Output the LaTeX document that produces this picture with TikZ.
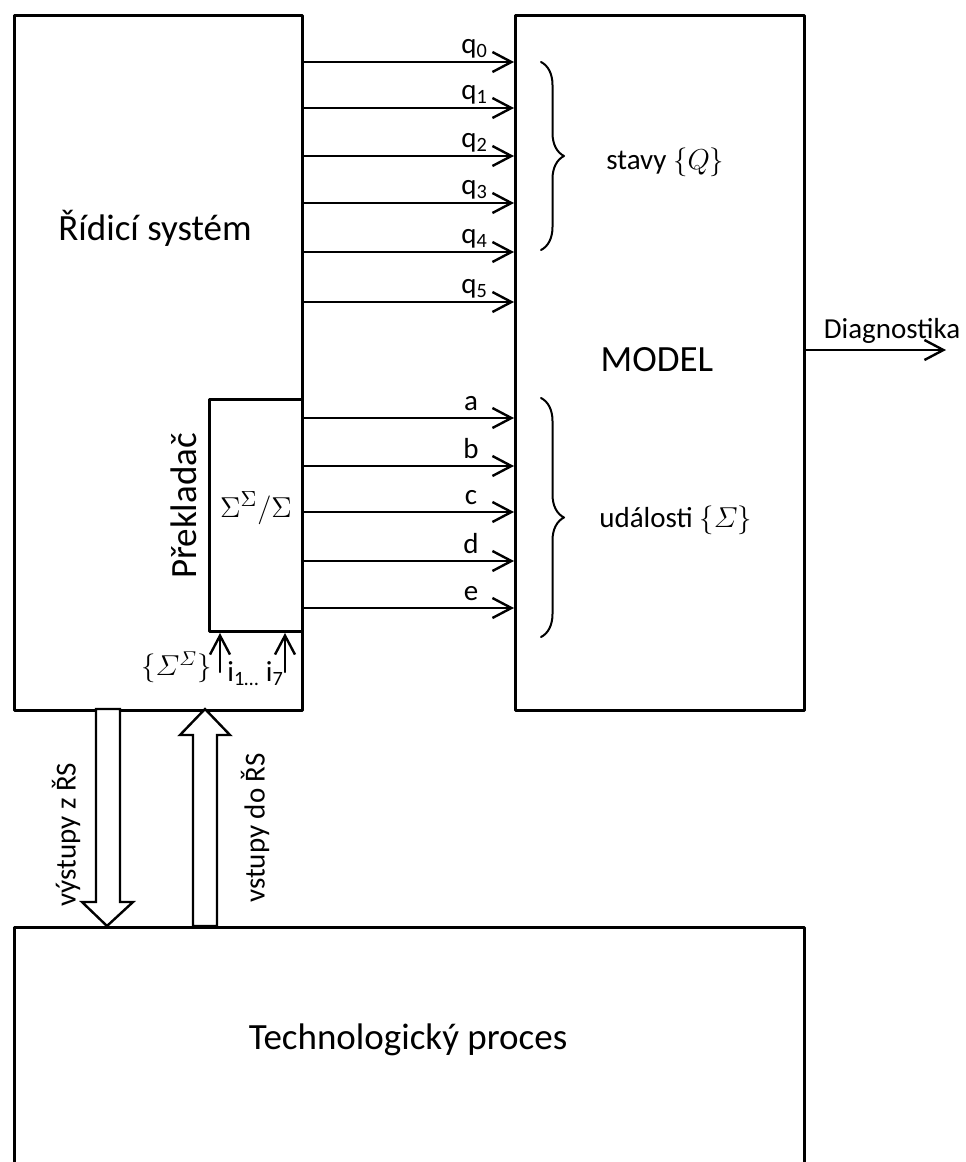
\documentclass[tikz,border=0pt]{standalone}
\usepackage{amsmath}
\usepackage{fontspec}
\setmainfont{Carlito}
\usetikzlibrary{arrows.meta,decorations.pathreplacing}

\tikzset{
  box/.style={draw, line width=1.5pt, inner sep=0pt, anchor=north west},
  big/.style={font=\fontsize{18.5}{22}\selectfont, inner sep=0pt},
  lbl/.style={font=\fontsize{14.5}{17}\selectfont, inner sep=0pt},
  arr/.style={-{Straight Barb[length=9.5pt,width=10pt]}, line width=1.2pt},
  hollow/.style={draw, line width=1.2pt, fill=white, line join=miter},
  curly/.style={decorate, decoration={brace, amplitude=11.5pt}, line width=1pt},
}

\begin{document}
\begin{tikzpicture}[x=0.5pt, y=0.5pt, line join=round, line cap=round]
  \path[clip, use as bounding box] (0,0) rectangle (965,-1162);

  % boxes
  \node[box, minimum width=144pt, minimum height=347.5pt] (rs) at (13,-14) {};
  \node[box, minimum width=144.5pt, minimum height=347.5pt] (model) at (514,-14) {};
  \node[box, minimum width=46.5pt, minimum height=116pt, fill=white] (prek) at (208,-398) {};
  \node[box, minimum width=395pt, minimum height=150pt] (proc) at (13,-926) {};

  \node[big] (rstext) at (155,-228) {Řídicí systém};
  \node[big] (modeltext) at (657,-360) {MODEL};
  \node[big] (proctext) at (408,-1040) {Technologický proces};
  \node[big, rotate=90] (prektext) at (184,-506) {Překladač};
  \node[lbl, font=\fontsize{15}{17}\selectfont] (prekmath) at (256,-508) {$\Sigma^{\Sigma}/\Sigma$};

  % states
  \foreach \y/\n in {62/0, 108/1, 156/2, 203/3, 252/4, 302/5}{
    \path (0,-\y) coordinate (q\n);
    \draw[arr] (rs.east |- q\n) -- (model.west |- q\n)
      node[lbl, pos=1, anchor=base east, xshift=-12.5pt, yshift=4.5pt] (lq\n) {q\textsubscript{\n}};
  }

  % events
  \foreach \y/\n in {418/a, 466/b, 512/c, 561/d, 608/e}{
    \path (0,-\y) coordinate (e\n);
    \draw[arr] (rs.east |- e\n) -- (model.west |- e\n)
      node[lbl, pos=1, anchor=base, xshift=-21.5pt, yshift=4pt] (l\n) {\n};
  }

  % braces
  \draw[curly] (541,-62) -- (541,-250);
  \node[lbl, anchor=west] (stavy) at (606,-162) {stavy $\{Q\}$};
  \draw[curly] (541,-398) -- (541,-637);
  \node[lbl, anchor=west] (udalosti) at (599,-520) {události $\{\varSigma\}$};

  % output
  \path (946,-350) coordinate (diag);
  \draw[arr] (model.east |- diag) -- (diag);
  \node[lbl, anchor=base] (diagtext) at (892,-338) {Diagnostika};

  % inputs of the translator
  \path (220,-672) coordinate (in1) (285,-672) coordinate (in7);
  \draw[arr] (in1) -- (prek.south -| in1);
  \draw[arr] (in7) -- (prek.south -| in7);
  \node[lbl, anchor=east] (insig) at (212,-667) {$\{\varSigma^{\varSigma}\}$};
  \node[lbl, anchor=base west] (ini) at (227,-681) {i\textsubscript{1…} i\textsubscript{7}};

  % process links
  \draw[hollow] (96,-709) -- (120,-709) -- (120,-902) -- (133,-902) -- (107,-926) -- (82,-902) -- (96,-902) -- cycle;
  \draw[hollow] (193,-926) -- (193,-735) -- (180,-735) -- (205,-709) -- (230,-735) -- (217,-735) -- (217,-926) -- cycle;
  \node[lbl, rotate=90] (outtext) at (66,-835) {výstupy z ŘS};
  \node[lbl, rotate=90] (intext) at (255,-828) {vstupy do ŘS};
\end{tikzpicture}
\end{document}
